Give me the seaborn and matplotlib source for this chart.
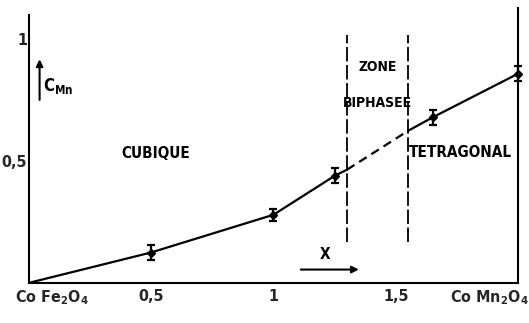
import matplotlib
matplotlib.use("Agg")
import matplotlib.pyplot as plt
import seaborn as sns
import pandas as pd
from matplotlib.transforms import ScaledTranslation

# data
x_pts = [0.0, 0.5, 1.0, 1.25, 1.65, 2.0]
c_pts = [0.0, 0.125, 0.28, 0.44, 0.68, 0.86]
c_err = [0.0, 0.03, 0.025, 0.03, 0.03, 0.03]
curve_solid1_x = [0.0, 0.5, 1.0, 1.25, 1.3]
curve_solid1_y = [0.0, 0.125, 0.28, 0.44, 0.465]
curve_dash_x = [1.3, 1.55]
curve_dash_y = [0.465, 0.625]
curve_solid2_x = [1.55, 1.65, 2.0]
curve_solid2_y = [0.625, 0.68, 0.86]
zone_bounds = [1.3, 1.55]
xtick_pos = [0.0, 0.5, 1.0, 1.5, 2.0]
xtick_labels = ["Co Fe$_2$O$_4$", "0,5", "1", "1,5", "Co Mn$_2$O$_4$"]
ytick_pos = [0.5, 1.0]
ytick_labels = ["0,5", "1"]

sns.set_style("white")
plt.rcParams["font.family"] = ["DejaVu Sans"]
plt.rcParams["font.stretch"] = "condensed"
plt.rcParams["font.weight"] = "bold"
plt.rcParams["mathtext.fontset"] = "custom"
plt.rcParams["mathtext.rm"] = "DejaVu Sans:bold:stretch=condensed"
plt.rcParams["mathtext.it"] = "DejaVu Sans:bold:stretch=condensed"

fig = plt.figure(figsize=(5.29, 3.23), dpi=100)
ax = fig.add_axes([0.054, 0.124, 0.926, 0.852])
ax.set_xlim(0, 2.0)
ax.set_ylim(0, 1.13)

sns.lineplot(data=pd.DataFrame({"x": curve_solid1_x, "y": curve_solid1_y}), x="x", y="y",
             ax=ax, color="black", lw=1.6, sort=False)
sns.lineplot(data=pd.DataFrame({"x": curve_dash_x, "y": curve_dash_y}), x="x", y="y",
             ax=ax, color="black", lw=1.6, linestyle=(0, (4, 2.5)), sort=False)
sns.lineplot(data=pd.DataFrame({"x": curve_solid2_x, "y": curve_solid2_y}), x="x", y="y",
             ax=ax, color="black", lw=1.6, sort=False)

ax.errorbar(x_pts[1:], c_pts[1:], yerr=c_err[1:], fmt="D", color="black", ms=4,
            capsize=3, elinewidth=1.6, capthick=1.6, clip_on=False)

for zb in zone_bounds:
    ax.plot([zb, zb], [0.17, 1.02], color="black", lw=1.3, linestyle=(0, (8, 2)))

ax.set_xticks(xtick_pos)
ax.set_xticklabels(xtick_labels, fontsize=11.5)
ax.set_yticks(ytick_pos)
ax.set_yticklabels(ytick_labels, fontsize=11.5)
ax.tick_params(axis="x", direction="in", length=3, width=1.2, pad=4)
ax.tick_params(axis="y", direction="in", length=4, width=1.2, pad=1)
ax.set_xlabel("")
ax.set_ylabel("")

xt = ax.xaxis.get_major_ticks()
xt[0].label1.set_horizontalalignment("left")
xt[0].label1.set_transform(xt[0].label1.get_transform() + ScaledTranslation(-0.14, 0, fig.dpi_scale_trans))
xt[-1].label1.set_horizontalalignment("right")
xt[-1].label1.set_transform(xt[-1].label1.get_transform() + ScaledTranslation(0.10, 0, fig.dpi_scale_trans))

for s in ["left", "bottom", "right"]:
    ax.spines[s].set_visible(True)
    ax.spines[s].set_color("black")
    ax.spines[s].set_linewidth(1.5)
ax.spines["top"].set_visible(False)
ax.spines["left"].set_bounds(0, 1.10)

kw = dict(fontweight="bold", color="black")
ax.text(0.52, 0.53, "CUBIQUE", ha="center", va="center", fontsize=11, **kw)
ax.text(1.425, 0.885, "ZONE", ha="center", va="center", fontsize=10, **kw)
ax.text(1.425, 0.74, "BIPHASEE", ha="center", va="center", fontsize=10, **kw)
ax.text(1.765, 0.535, "TETRAGONAL", ha="center", va="center", fontsize=11, **kw)
ax.text(1.21, 0.115, "X", ha="center", va="center", fontsize=11, **kw)
ax.annotate("", xy=(1.36, 0.055), xytext=(1.10, 0.055),
            arrowprops=dict(arrowstyle="-|>", color="black", lw=1.5, mutation_scale=10))
ax.annotate("", xy=(0.045, 0.93), xytext=(0.045, 0.74),
            arrowprops=dict(arrowstyle="-|>", color="black", lw=1.5, mutation_scale=10))
ax.text(0.06, 0.81, "C$_{\\mathrm{Mn}}$", ha="left", va="center", fontsize=12, **kw)

fig.savefig("out.png", dpi=100)
